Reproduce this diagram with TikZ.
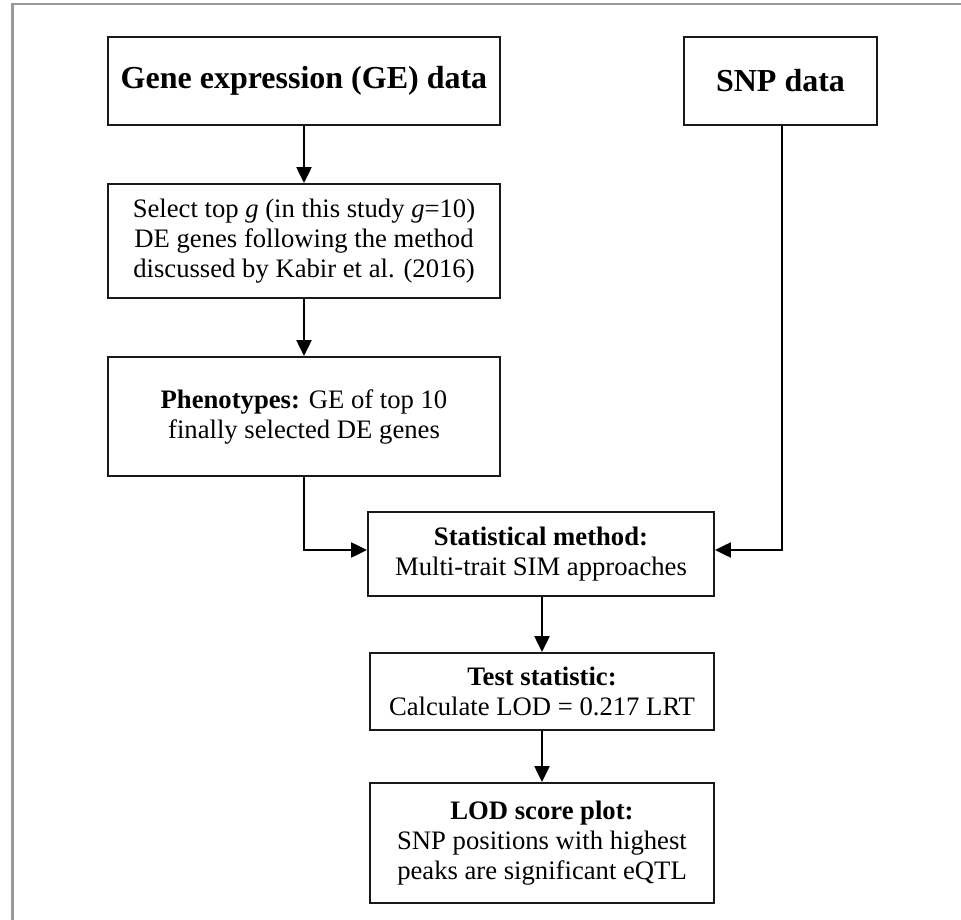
\documentclass[tikz,border=0pt]{standalone}
\usepackage{fontspec}
\setmainfont{Liberation Serif}
\usetikzlibrary{arrows.meta,calc}
\begin{document}
\begin{tikzpicture}[x=0.75pt,y=-0.75pt,
  box/.style={draw=black!90,line width=1.25pt,rectangle,inner sep=0pt,align=center,
    font=\fontsize{20}{22.5}\selectfont},
  titlebox/.style={box,font=\fontsize{24}{28}\selectfont\bfseries},
  conn/.style={line width=2.2pt,-{Triangle[length=12pt,width=11pt]}},
  plain/.style={line width=2.2pt}]
\useasboundingbox (0,0) rectangle (961,920);
\draw[gray!80,line width=1.8pt] (12.5,920) -- (12.5,4) -- (961,4);

\node[titlebox,minimum width={392*0.75pt},minimum height={88*0.75pt}] (ge) at (304,81) {Gene expression (GE) data};
\node[titlebox,minimum width={193*0.75pt},minimum height={88*0.75pt}] (snp) at (780.5,81) {SNP data};
\node[box,minimum width={392*0.75pt},minimum height={114*0.75pt}] (sel) at (304,241)
  {Select top \textit{g} (in this study \textit{g}=10)\\DE genes following the method\\discussed by Kabir et al. (2016)};
\node[box,minimum width={392*0.75pt},minimum height={119*0.75pt}] (phe) at (304,416.5)
  {\textbf{Phenotypes:} GE of top 10\\finally selected DE genes};
\node[box,minimum width={346*0.75pt},minimum height={84*0.75pt}] (stat) at (541,554)
  {\textbf{Statistical method:}\\Multi-trait SIM approaches};
\node[box,minimum width={344*0.75pt},minimum height={77*0.75pt}] (test) at (542,691.5)
  {\textbf{Test statistic:}\\Calculate LOD = 0.217 LRT};
\node[box,minimum width={344*0.75pt},minimum height={120*0.75pt}] (lod) at (542,843)
  {\textbf{LOD score plot:}\\SNP positions with highest\\peaks are significant eQTL};

\draw[conn] (ge) -- (sel);
\draw[conn] (sel) -- (phe);
\draw[conn] (phe.south) |- ($(stat.west)+(0,-4)$);
\draw[conn] ($(snp.south)+(1.5,0)$) |- ($(stat.east)+(0,-4)$);
\draw[conn] (stat.south -| test.north) -- (test.north);
\draw[conn] (test) -- (lod);
\end{tikzpicture}
\end{document}
